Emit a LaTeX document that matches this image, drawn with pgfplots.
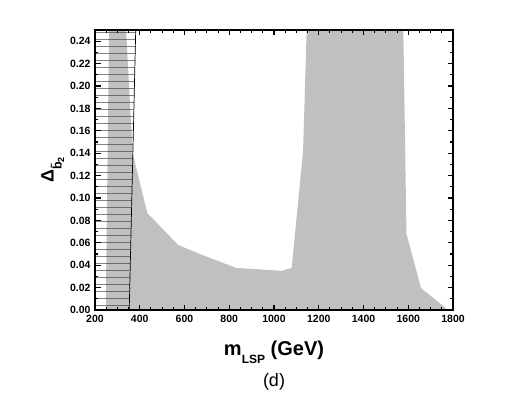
\documentclass[border=0pt]{standalone}
\usepackage{pgfplots}
\pgfplotsset{compat=1.18}
\usepackage{fontspec}
\setmainfont{Liberation Sans}
\usetikzlibrary{patterns.meta}
\definecolor{fillgray}{RGB}{192,192,192}
\begin{document}
\begin{tikzpicture}
\useasboundingbox (-95pt,-83pt) rectangle (431pt,310pt);
\begin{axis}[
  at={(0,0)}, anchor=south west,
  scale only axis, width=358pt, height=280pt,
  xmin=200, xmax=1800, ymin=0, ymax=0.25,
  xtick={200,400,...,1800},
  ytick={0,0.02,...,0.241},
  minor x tick num=3, minor y tick num=1,
  tick align=inside,
  major tick length=5.5pt, minor tick length=3pt,
  major tick style={black, line width=1.3pt},
  minor tick style={black, line width=1.1pt},
  axis line style={line width=1.5pt},
  /pgf/number format/assume math mode=true,
  /pgf/number format/1000 sep={},
  xticklabel={\pgfmathprintnumber[fixed,precision=0]{\tick}},
  yticklabel={\pgfmathprintnumber[fixed,fixed zerofill,precision=2]{\tick}},
  tick label style={font=\fontsize{10.5}{11}\selectfont\bfseries},
  xticklabel style={yshift=-2pt},
  yticklabel style={xshift=-1pt},
  xlabel={\fontsize{20}{22}\selectfont\bfseries m\raisebox{-0.4em}{\fontsize{12}{12}\selectfont LSP} (GeV)},
  xlabel style={yshift=-11pt},
  ylabel={\fontsize{18}{18}\selectfont\bfseries Δ\raisebox{-0.45em}{\fontsize{12.5}{12}\selectfont\bfseries \~b\raisebox{-0.2em}{\fontsize{9}{9}\selectfont 2}}},
  ylabel style={yshift=-1pt},
  clip=true,
  axis on top,
]
\addplot[fill=fillgray, draw=none] coordinates {
  (248,0) (263,0.25) (339,0.25) (368,0.14) (434,0.0865) (572,0.058)
  (669,0.050) (830,0.0376) (1035,0.035) (1079,0.0376) (1130,0.142)
  (1146,0.25) (1578,0.25) (1592,0.068) (1657,0.0196) (1778,0)
};
\addplot[pattern={Lines[angle=0,distance=7.4pt,line width=0.5pt]}, pattern color=black!75, draw=none] coordinates {
  (200,0) (353,0) (382,0.25) (200,0.25)
};
\addplot[black, line width=0.7pt] coordinates {(353,0) (382,0.25)};
\end{axis}
\node[font=\fontsize{18}{20}\selectfont] at (179pt,-72pt) {(d)};
\end{tikzpicture}
\end{document}
